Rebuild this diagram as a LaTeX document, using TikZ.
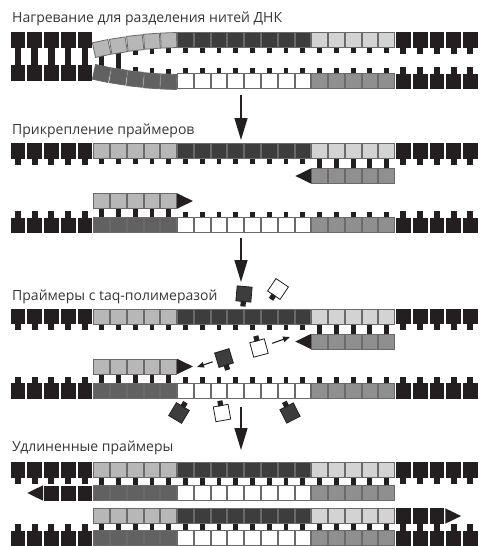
\documentclass[tikz,border=0pt]{standalone}
\usepackage{fontspec}
\setmainfont{Open Sans}
\usetikzlibrary{arrows.meta}

\definecolor{ntk}{HTML}{231F20}
\definecolor{ca}{HTML}{B7B7B7}
\definecolor{cb}{HTML}{3D3D3D}
\definecolor{cc}{HTML}{D3D3D3}
\definecolor{cd}{HTML}{616161}
\definecolor{ce}{HTML}{8F8F8F}
\definecolor{edge}{HTML}{6A6A6A}

\tikzset{
  cell/.style={draw=edge, line width=0.8pt},
  heading/.style={anchor=base west, inner sep=0pt, font=\fontsize{14}{16}\selectfont, text=ntk!90},
  bigarrow/.style={draw=ntk, line width=1.3pt, -{Triangle[length=22pt,width=13pt]}},
  smallarrow/.style={draw=ntk, line width=1.1pt, -{Triangle[length=7pt,width=5.5pt]}},
  polyedge/.style={draw=ntk, line width=0.8pt},
  pics/polym/.style={code={
    \filldraw[polyedge, fill=#1] (-7.5,-7.5) rectangle (7.5,7.5);
    \fill[ntk] (-2.6,-7) rectangle (2.6,-12.5);
    \coordinate (-c) at (0,0);
  }}
}

% left edge of cell #1 along a strand
\newcommand\cellx[1]{\pgfmathsetmacro\xl{9.5+16.76*(#1)}}
% coloured nucleotide box: cell, top y, fill
\newcommand\boxcell[3]{\cellx{#1}\filldraw[cell, fill=#3] (\xl+0.5,#2+0.5) rectangle (\xl+16.26,#2+15.5);}
% black nucleotide with its stem pointing down / up, or without stem
\newcommand\ntdown[2]{\cellx{#1}\fill[ntk] (\xl+1,#2) rectangle (\xl+15.8,#2+15.5);\fill[ntk] (\xl+5.4,#2+15) rectangle (\xl+11.4,#2+21.5);}
\newcommand\ntup[2]{\cellx{#1}\fill[ntk] (\xl+1,#2+0.5) rectangle (\xl+15.8,#2+16);\fill[ntk] (\xl+5.4,#2-6) rectangle (\xl+11.4,#2+1);}
\newcommand\ntsq[2]{\cellx{#1}\fill[ntk] (\xl+1,#2+0.5) rectangle (\xl+15.8,#2+16);}
% base-pair tick in cell #1 from y #2 to y #3
\newcommand\bptick[3]{\cellx{#1}\fill[ntk] (\xl+6,#2) rectangle (\xl+10.8,#3);}
% primer ends
\newcommand\tipleft[2]{\cellx{#1}\fill[ntk] (\xl+16.76,#2+0.3) -- (\xl+1,#2+8) -- (\xl+16.76,#2+15.7) -- cycle;}
\newcommand\tipright[2]{\cellx{#1}\fill[ntk] (\xl,#2+0.3) -- (\xl+15.8,#2+8) -- (\xl,#2+15.7) -- cycle;}

\newcommand\topstrand[1]{%
  \foreach \i in {0,1,2,3,4,23,24,25,26,27} {\ntdown{\i}{#1}}%
  \foreach \i in {5,...,9} {\boxcell{\i}{#1}{ca}}%
  \foreach \i in {10,...,17} {\boxcell{\i}{#1}{cb}}%
  \foreach \i in {18,...,22} {\boxcell{\i}{#1}{cc}}}
\newcommand\botstrand[1]{%
  \foreach \i in {0,1,2,3,4,23,24,25,26,27} {\ntup{\i}{#1}}%
  \foreach \i in {5,...,9} {\boxcell{\i}{#1}{cd}}%
  \foreach \i in {10,...,17} {\boxcell{\i}{#1}{white}}%
  \foreach \i in {18,...,22} {\boxcell{\i}{#1}{ce}}}

% two strands, each with one bound primer; #1 = top of the upper strand
\newcommand\primerpanel[1]{%
  \pgfmathsetmacro\pT{#1}\pgfmathsetmacro\pR{#1+25}%
  \pgfmathsetmacro\pL{#1+50}\pgfmathsetmacro\pB{#1+74}%
  \foreach \i in {5,...,17} {\bptick{\i}{\pT+15}{\pT+21}}%
  \foreach \i in {18,...,22} {\bptick{\i}{\pT+15}{\pR+1}}%
  \foreach \i in {5,...,9} {\bptick{\i}{\pL+15}{\pB+1}}%
  \foreach \i in {10,...,22} {\bptick{\i}{\pB-5.5}{\pB+1}}%
  \topstrand{\pT}%
  \foreach \i in {18,...,22} {\boxcell{\i}{\pR}{ce}}%
  \tipleft{17}{\pR}%
  \foreach \i in {5,...,9} {\boxcell{\i}{\pL}{ca}}%
  \tipright{10}{\pL}%
  \botstrand{\pB}}

\begin{document}
\begin{tikzpicture}[x=1pt, y=-1pt]
\useasboundingbox (0,0) rectangle (481,546);

% ---------- headings ----------
\node[heading] (h1) at (12,22.7) {Нагревание для разделения нитей ДНК};
\node[heading] (h2) at (12,134) {Прикрепление праймеров};
\node[heading] (h3) at (12,300.7) {Праймеры с taq-полимеразой};
\node[heading] (h4) at (12,451.7) {Удлиненные праймеры};

% ---------- 1: melting ----------
\foreach \i in {0,...,4} {
  \cellx{\i}
  \fill[ntk] (\xl+1,32) rectangle (\xl+15.8,48);
  \fill[ntk] (\xl+5.2,47) rectangle (\xl+11.6,66);
  \fill[ntk] (\xl+1,65) rectangle (\xl+15.8,81);
}
\foreach \k/\yt/\yb/\a/\ta/\tb/\ba/\bb in
  {0/48.5/73.5/12/55/66/55/66, 1/45.5/76.5/9/52/69/52/69,
   2/43/79/6/50/55/66.5/71.5, 3/41.2/80.8/4/48.5/53.5/68/73, 4/40.3/81.7/2/48/53/68.5/73.5} {
  \pgfmathsetmacro\xc{9.5+16.76*(5+\k)+8.38}
  \fill[ntk] (\xc-2.4,\ta) rectangle (\xc+2.4,\tb);
  \fill[ntk] (\xc-2.4,\ba) rectangle (\xc+2.4,\bb);
  \filldraw[cell, fill=ca, rotate around={\a:(\xc,\yt)}] (\xc-7.9,\yt-7.5) rectangle (\xc+7.9,\yt+7.5);
  \filldraw[cell, fill=cd, rotate around={-\a:(\xc,\yb)}] (\xc-7.9,\yb-7.5) rectangle (\xc+7.9,\yb+7.5);
}
\foreach \i in {10,...,22} {\bptick{\i}{47}{53}\bptick{\i}{68}{74}}
\foreach \i in {23,...,27} {\ntdown{\i}{32}\ntup{\i}{73}}
\foreach \i in {10,...,17} {\boxcell{\i}{32}{cb}\boxcell{\i}{73}{white}}
\foreach \i in {18,...,22} {\boxcell{\i}{32}{cc}\boxcell{\i}{73}{ce}}

% ---------- 2 and 3: primers bound ----------
\primerpanel{143}
\primerpanel{308.5}

% polymerase molecules
\pic[rotate=175] (p1) at (244,294) {polym=cb};
\pic[rotate=146] (p2) at (278,289) {polym=white};
\pic[rotate=15]  (p3) at (259,348) {polym=white};
\pic[rotate=197] (p4) at (224,358) {polym=cb};
\pic[rotate=-31] (p5) at (179,413) {polym=cb};
\pic[rotate=10]  (p6) at (222,413) {polym=white};
\pic[rotate=27]  (p7) at (290,413) {polym=cb};
\coordinate (t3) at (290,337);
\coordinate (t4) at (197,367);
\draw[smallarrow, shorten <=14pt] (p3-c) -- (t3);
\draw[smallarrow, shorten <=12pt] (p4-c) -- (t4);

% ---------- 4: extended primers ----------
\foreach \i in {5,...,22} {\bptick{\i}{477}{486}\bptick{\i}{523}{531}}
\topstrand{462}
\tipleft{1}{485}
\foreach \i in {2,3,4} {\ntsq{\i}{485}}
\foreach \i in {5,...,9} {\boxcell{\i}{485}{cd}}
\foreach \i in {10,...,17} {\boxcell{\i}{485}{white}}
\foreach \i in {18,...,22} {\boxcell{\i}{485}{ce}}
\foreach \i in {5,...,9} {\boxcell{\i}{508}{ca}}
\foreach \i in {10,...,17} {\boxcell{\i}{508}{cb}}
\foreach \i in {18,...,22} {\boxcell{\i}{508}{cc}}
\foreach \i in {23,24,25} {\ntdown{\i}{508}}
\tipright{26}{508}
\botstrand{530}

% ---------- step arrows ----------
\coordinate (s1) at (241,95);  \coordinate (e1) at (241,140);
\coordinate (s2) at (241,238); \coordinate (e2) at (241,282);
\coordinate (s3) at (241,407); \coordinate (e3) at (241,450);
\draw[bigarrow] (s1) -- (e1);
\draw[bigarrow] (s2) -- (e2);
\draw[bigarrow] (s3) -- (e3);
\end{tikzpicture}
\end{document}
